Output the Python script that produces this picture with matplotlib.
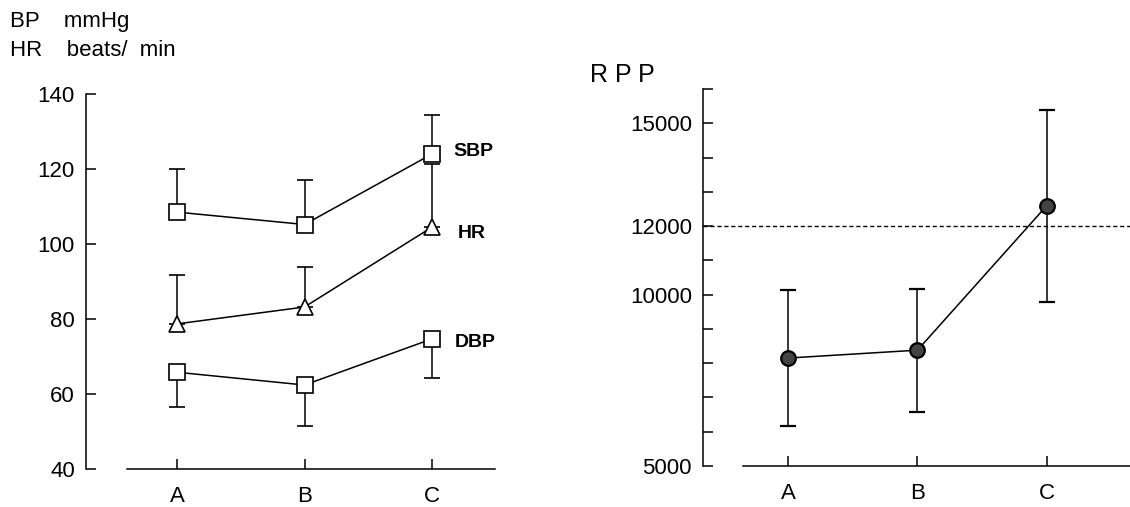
import matplotlib.pyplot as plt

plt.rcParams['font.family'] = ['Liberation Sans', 'DejaVu Sans']

groups = ['A', 'B', 'C']
sbp = [108.5, 105.2, 124.0]
sbp_err = [11.5, 12.0, 10.3]
hr = [78.7, 83.2, 104.5]
hr_err = [13.0, 10.7, 16.8]
dbp = [65.8, 62.4, 74.7]
dbp_err = [9.3, 10.9, 10.4]

rpp = [8150, 8380, 12590]
rpp_err = [1990, 1790, 2810]
rpp_ref = 12000

x = list(range(len(groups)))
lw = 1.1

fig = plt.figure(figsize=(11.3, 5.07), dpi=100)
W, H = 1130, 507


def place(left, right, top, bottom):
    return fig.add_axes([left / W, 1 - bottom / H, (right - left) / W, (bottom - top) / H])


# ---- left panel: BP / HR
ax1 = place(86, 495, 94, 469)
kw = dict(color='black', lw=lw, capsize=6, elinewidth=lw, capthick=lw,
          markerfacecolor='white', markeredgecolor='black', markeredgewidth=1.2, zorder=3)
ax1.errorbar(x, sbp, yerr=[[0] * 3, sbp_err], marker='s', markersize=12, **kw)
ax1.errorbar(x, hr, yerr=[[0] * 3, hr_err], marker='^', markersize=12, **kw)
ax1.errorbar(x, dbp, yerr=[dbp_err, [0] * 3], marker='s', markersize=12, **kw)
ax1.set_ylim(40, 140)
ax1.set_xlim(-0.714, 2.494)
ax1.set_yticks([40, 60, 80, 100, 120, 140])
ax1.set_xticks(x)
ax1.set_xticklabels(groups)
for lab, xl, yv in zip(['SBP', 'HR', 'DBP'], [2.165, 2.2, 2.18], [sbp[2] + 0.8, hr[2] - 1.8, dbp[2] - 1.0]):
    ax1.text(xl, yv, lab, fontsize=14, fontweight='bold', va='center')
ax1.spines['bottom'].set_bounds(-0.39, 2.494)
fig.text(10 / W, 1 - 21 / H, 'BP    mmHg', fontsize=16, va='center')
fig.text(10 / W, 1 - 51 / H, 'HR    beats/  min', fontsize=16, va='center')

# ---- right panel: RPP
ax2 = place(703, 1130, 89, 466)
ax2.axhline(rpp_ref, color='black', lw=1, ls=(0, (3, 2)), zorder=1)
ax2.errorbar(x, rpp, yerr=rpp_err, marker='o', markersize=10.5, color='black', lw=lw,
             capsize=6, elinewidth=lw, capthick=lw, markerfacecolor='#444444',
             markeredgecolor='black', markeredgewidth=1.6, zorder=3)
ax2.set_ylim(5000, 16000)
ax2.set_xlim(-0.661, 2.646)
ax2.set_yticks(range(5000, 16001, 1000))
ax2.set_yticklabels(['5000', '', '', '', '', '10000', '', '12000', '', '', '15000', ''])
ax2.set_xticks(x)
ax2.set_xticklabels(groups)
ax2.spines['bottom'].set_bounds(-0.35, 2.646)
fig.text(590 / W, 1 - 75 / H, 'R P P', fontsize=18, va='center')

for ax in (ax1, ax2):
    ax.spines['top'].set_visible(False)
    ax.spines['right'].set_visible(False)
    ax.spines['left'].set_linewidth(lw)
    ax.spines['bottom'].set_linewidth(lw)
    ax.tick_params(axis='both', direction='in', length=7, width=lw, labelsize=16)
    ax.tick_params(axis='y', pad=8)
    ax.tick_params(axis='x', pad=12)

fig.savefig('out.png', dpi=100)
